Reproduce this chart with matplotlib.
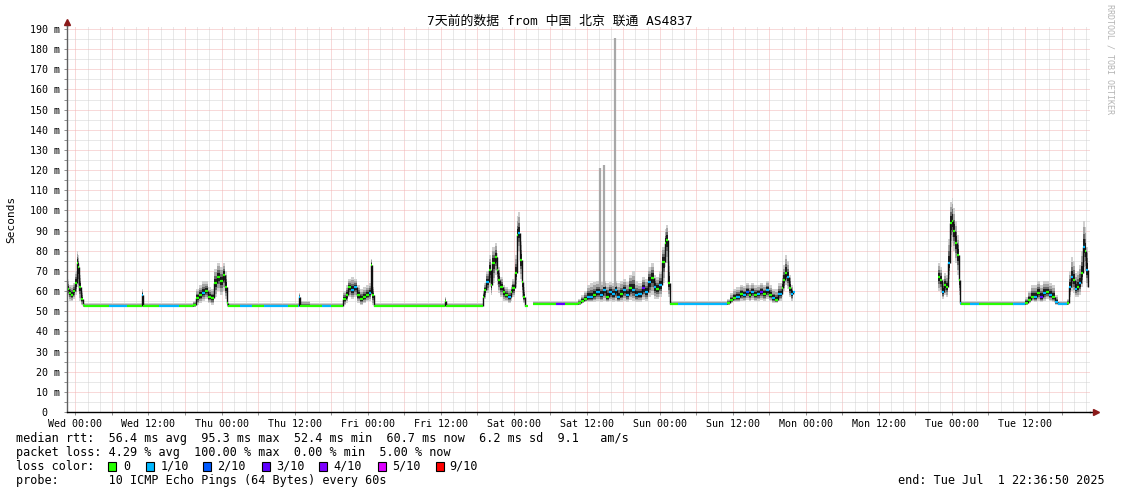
import numpy as np
import matplotlib
matplotlib.use('Agg')
import matplotlib.pyplot as plt
from matplotlib.collections import LineCollection
from matplotlib.patches import Rectangle

plt.rcParams['font.family'] = ['DejaVu Sans Mono', 'Noto Sans CJK SC']

nan = float('nan')

# hours since Wed 00:00 (graph spans 7 days ending Tue 22:36:50)
hours = [
    -1.3, -1.0, -0.7, -0.4, -0.1, 0.2, 0.4, 0.6, 0.9, 1.2, 1.4,
    3.5, 5.5, 6.6, 8.5, 10.7, 10.9, 11.1, 13.7, 14.9, 17.0, 18.9,
    19.3, 19.8, 20.3, 20.8, 21.3, 21.8, 22.2, 22.7, 23.2, 23.7, 24.2, 24.5, 24.9, 25.0,
    27.0, 29.0, 31.0, 33.0, 35.0, 36.5, 36.7, 36.9, 38.5, 40.5, 42.0, 43.6,
    43.9, 44.4, 44.7, 45.2, 45.7, 46.2, 46.7, 47.2, 47.7, 48.2, 48.5, 48.75, 49.0,
    51.0, 54.0, 57.0, 60.5, 60.7, 60.9, 63.0, 65.0, 66.5,
    66.9, 67.2, 67.5, 67.9, 68.2, 68.5, 68.9, 69.2, 69.5, 69.8, 70.2, 70.5, 71.0, 71.5,
    71.8, 72.2, 72.5, 72.7, 73.0, 73.3, 73.6, 73.9,
    74.4,
    75.1, 77.0, 79.0, 80.5, 82.2, 82.5, 83.0, 83.5,
    84.1, 84.6, 85.1, 85.6, 86.1, 86.6, 87.1, 87.6, 88.1, 88.6, 89.05, 89.5, 90.0, 90.5,
    91.0, 91.5, 92.0, 92.5, 93.0, 93.5, 94.0, 94.5, 95.0, 95.45, 95.9, 96.4, 96.8, 97.1,
    97.35, 97.6,
    99.0, 101.0, 103.0, 105.0, 107.1, 107.6, 108.1,
    108.6, 109.1, 109.6, 110.1, 110.6, 111.0, 111.5, 112.0, 112.5, 113.0, 113.5, 114.0,
    114.5, 115.0, 115.5, 116.0, 116.3, 116.6, 116.96, 117.3, 117.6, 117.9,
    118.2,
    141.7, 142.1, 142.4, 142.7, 143.1, 143.4, 143.7, 144.0, 144.2, 144.5, 144.9, 145.1, 145.4, 145.5,
    147.0, 148.5, 150.5, 152.5, 154.0, 155.0, 156.0, 156.5, 157.0,
    157.5, 158.0, 158.5, 159.0, 159.5, 160.0, 160.5, 160.95, 161.4, 162.4, 162.9, 163.3,
    163.6, 163.9, 164.2, 164.6, 164.9, 165.2, 165.5, 165.8, 166.0, 166.4,
]

median_ms = [
    61, 59, 58, 60, 64, 74, 72, 62, 56, 53, 52.5,
    52.5, 52.5, 52.5, 52.5, 52.5, 58, 52.5, 52.5, 52.5, 52.5, 52.5,
    53, 56.5, 58, 59, 60, 57, 56.5, 64, 67, 65, 68, 62, 54, 52.5,
    52.5, 52.5, 52.5, 52.5, 52.5, 52.5, 57, 52.5, 52.5, 52.5, 52.5, 52.5,
    56, 58, 62, 60.5, 62, 58, 56, 57, 58, 59, 73, 58, 52.5,
    52.5, 52.5, 52.5, 52.5, 55, 52.5, 52.5, 52.5, 52.5,
    57, 60.5, 64.5, 70.5, 63, 74, 77, 70.5, 65.5, 62, 59.5, 58, 57, 59.5,
    61.5, 69, 88, 89, 75.5, 64.5, 57, 52.5,
    nan,
    53.5, 53.5, 53.5, 53.5, 53.5, 54, 55, 56,
    57, 57, 58, 59.5, 58, 60.5, 57, 59.5, 58.5, 60.5, 57, 58.5, 60.5, 58,
    61.5, 60.5, 58, 58.5, 61.5, 59.5, 64.5, 66.5, 62, 61, 63, 74.5, 84, 85.5,
    64, 53.5,
    53.5, 53.5, 53.5, 53.5, 54, 55.5, 56.5,
    57, 58.5, 58, 59.5, 58, 59.5, 58, 58.5, 59.5, 58.5, 60.5, 58,
    56.5, 55.5, 58.5, 61.5, 65.5, 69, 67, 61.5, 58.5, 59.5,
    nan,
    67, 65.5, 59.5, 63, 62, 74, 94, 95, 90, 84, 78, 65.5, 54, 53.5,
    53.5, 53.5, 53.5, 53.5, 53.5, 53.5, 54, 55.5, 57,
    57, 59, 57, 59, 59.5, 58, 57, 54.5, 53.5, 53.5, 54, 62,
    67, 65.5, 61, 62, 64, 69, 82, 80, 70.5, 62,
]

smoke_lo = [
    57, 55, 55, 56, 58, 62, 60, 55, 53, 52, 52,
    52, 52, 52, 52, 52, 53, 52, 52, 52, 52, 52,
    52, 53, 54, 55, 56, 54, 53, 57, 60, 58, 60, 56, 52, 52,
    52, 52, 52, 52, 52, 52, 53, 52, 52, 52, 52, 52,
    53, 54, 57, 56, 57, 54, 53, 54, 55, 55, 58, 53, 52,
    52, 52, 52, 52, 53, 52, 52, 52, 52,
    54, 56, 59, 62, 58, 64, 68, 63, 59, 57, 55, 55, 54, 55,
    57, 62, 78, 80, 66, 57, 54, 52,
    nan,
    53, 53, 53, 53, 53, 53, 54, 54.5,
    54.5, 54.5, 54.5, 55, 54.5, 55, 54.5, 55, 54.5, 55, 54.5, 54.5, 55, 54.5,
    55.5, 55, 54.5, 54.5, 55.5, 55, 57, 58, 56, 56, 57, 64, 72, 74,
    57, 53,
    53, 53, 53, 53, 53, 54, 54.5,
    54.5, 55, 55, 55.5, 55, 55.5, 55, 55, 55.5, 55, 56, 55,
    54, 54, 55, 57, 60, 63, 61, 57, 55, 56,
    nan,
    60, 59, 56, 58, 57, 66, 82, 84, 80, 74, 68, 58, 53, 53,
    53, 53, 53, 53, 53, 53, 53, 54, 55,
    54.5, 55, 54.5, 55, 56, 55, 54.5, 53, 53, 53, 53, 57,
    60, 59, 57, 57, 58, 62, 72, 70, 62, 57,
]

smoke_hi = [
    66, 63, 63, 64, 70, 80, 78, 68, 60, 55, 54,
    54, 54, 54, 54, 54, 61, 54, 54, 54, 54, 54,
    55, 61, 63, 65, 65, 62, 61, 71, 74, 72, 74, 70, 57, 54,
    54, 54, 54, 54, 54, 54, 59, 55, 54, 54, 54, 54,
    60, 63, 66, 67, 66, 63, 61, 62, 63, 64, 76, 62, 54,
    54, 54, 54, 54, 57, 54, 54, 54, 54,
    60, 64, 70, 78, 70, 82, 84, 79, 72, 67, 63, 62, 61, 63,
    66, 78, 97, 99, 85, 72, 62, 55,
    nan,
    55, 55, 55, 55, 55, 56, 58, 60,
    63, 64, 64.5, 65, 64.5, 65, 64, 64.5, 64, 65, 64, 65, 66, 64.5,
    68, 70, 65, 64, 67, 66, 72, 74, 68, 67, 70, 82, 91, 93,
    75, 55,
    55, 55, 55, 55, 56, 59, 61,
    62, 63, 62.5, 64, 63, 64, 63, 63, 64, 63, 65, 63,
    61, 61, 64, 68, 73, 78, 75, 68, 63, 63,
    nan,
    74, 72, 66, 69, 68, 86, 104, 106, 101, 95, 88, 74, 57, 55,
    55, 55, 55, 55, 55, 55, 57, 60, 63,
    63, 65, 63, 65, 65, 64, 63, 58, 55, 55, 56, 70,
    77, 75, 69, 70, 73, 80, 95, 92, 82, 72,
]

# packet loss per sample, in tenths
loss_level = [
    0, 0, 0, 0, 0, 0, 0, 0, 0, 0, 0,
    0, 1, 1, 0, 0, 1, 0, 1, 1, 0, 0,
    0, 0, 0, 1, 0, 0, 0, 0, 0, 0, 0, 0, 0, 0,
    1, 0, 1, 1, 0, 1, 1, 0, 0, 1, 0, 0,
    0, 0, 0, 1, 1, 0, 0, 0, 0, 1, 0, 0, 0,
    0, 0, 0, 0, 0, 0, 0, 0, 0,
    0, 0, 1, 0, 0, 0, 0, 0, 0, 0, 0, 0, 1, 0,
    0, 0, 0, 1, 0, 0, 0, 0,
    0,
    0, 0, 3, 0, 0, 0, 0, 0,
    1, 1, 0, 1, 1, 1, 0, 1, 1, 1, 1, 0, 1, 1,
    0, 1, 1, 1, 3, 1, 1, 0, 1, 0, 1, 0, 0, 0,
    0, 0,
    1, 1, 1, 1, 0, 0, 0,
    1, 0, 1, 2, 0, 1, 0, 1, 3, 0, 1, 0,
    1, 0, 1, 0, 0, 0, 1, 0, 1, 1,
    0,
    0, 0, 1, 0, 0, 1, 0, 0, 0, 0, 0, 0, 1, 0,
    1, 0, 0, 0, 1, 1, 0, 0, 0,
    1, 0, 3, 1, 0, 1, 0, 1, 1, 1, 0, 1,
    1, 0, 1, 0, 1, 0, 1, 0, 1, 1,
]

# single outlier pings on Saturday afternoon
spike_hours = [86.1, 86.8, 88.7]
spike_top = [121, 122.5, 185.5]
spike_base = [62, 62, 62]

loss_labels = ['0', '1/10', '2/10', '3/10', '4/10', '5/10', '9/10']
loss_colors = ['#26ff00', '#00b8ff', '#0059ff', '#5e00ff', '#7e00ff', '#dd00ff', '#ff0000']
loss_steps = [0, 1, 2, 3, 4, 5, 9]

day_labels = ['Wed 00:00', 'Wed 12:00', 'Thu 00:00', 'Thu 12:00', 'Fri 00:00', 'Fri 12:00',
              'Sat 00:00', 'Sat 12:00', 'Sun 00:00', 'Sun 12:00', 'Mon 00:00', 'Mon 12:00',
              'Tue 00:00', 'Tue 12:00']

W, H = 1121, 494
fig = plt.figure(figsize=(W / 100, H / 100), dpi=100)
fig.patch.set_facecolor('white')
ax = fig.add_axes([67 / W, 82 / H, 1022.6 / W, 386 / H])
x0, x1 = -1.386, 166.614
ax.set_xlim(x0, x1)
ax.set_ylim(0, 191.5)

# dotted grid: red every 6 h / 10 ms, grey in between
dot = (0, (1, 1))
for h in range(0, 168, 2):
    col = '#f2b4b4' if h % 6 == 0 else '#d2d2d2'
    ax.axvline(h, color=col, lw=0.72, ls=dot, zorder=1)
for v in range(5, 195, 5):
    col = '#f2b4b4' if v % 10 == 0 else '#d2d2d2'
    ax.axhline(v, color=col, lw=0.72, ls=dot, zorder=1)

t = np.array(hours, dtype=float)
m = np.array(median_ms, dtype=float)
lo = np.array(smoke_lo, dtype=float)
hi = np.array(smoke_hi, dtype=float)

# smoke, light to dark
for frac, col in zip([1.0, 0.75, 0.5, 0.3], ['#d0d0d0', '#a4a4a4', '#6a6a6a', '#1e1e1e']):
    ax.fill_between(t, m - frac * (m - lo), m + frac * (hi - m), color=col, lw=0,
                    step='post', zorder=3)

ax.vlines(spike_hours, spike_base, spike_top, colors='#a8a8a8', lw=1.6, zorder=3)

# median: coloured flat steps by loss, black risers
cmap = dict(zip(loss_steps, loss_colors))
flat, flat_cols, risers = [], [], []
for i in range(len(t) - 1):
    if np.isnan(m[i]):
        continue
    flat.append([(t[i], m[i]), (t[i + 1], m[i])])
    flat_cols.append(cmap[loss_level[i]])
    if not np.isnan(m[i + 1]):
        risers.append([(t[i + 1], m[i]), (t[i + 1], m[i + 1])])
ax.add_collection(LineCollection(risers, colors='#101010', linewidths=1.0, zorder=4))
ax.add_collection(LineCollection(flat, colors=flat_cols, linewidths=1.6, zorder=5,
                                 capstyle='butt'))

# axes
for s in ['top', 'right']:
    ax.spines[s].set_visible(False)
ax.spines['left'].set_color('#606060')
ax.spines['left'].set_linewidth(1)
ax.spines['bottom'].set_color('black')
ax.spines['bottom'].set_linewidth(1)
ax.plot([1, 1 + 6 / 1022.6], [0, 0], color='black', lw=1, transform=ax.transAxes, clip_on=False)
ax.plot([1 + 6 / 1022.6], [0], marker='>', color='#8b1a1a', ms=4, transform=ax.transAxes, clip_on=False)
ax.plot([0, 0], [1, 1 + 3 / 386], color='#606060', lw=1, transform=ax.transAxes, clip_on=False)
ax.plot([0], [1 + 4 / 386], marker='^', color='#8b1a1a', ms=4, transform=ax.transAxes, clip_on=False)

ax.set_xticks(list(range(0, 157, 12)))
ax.set_xticklabels(day_labels)
ax.set_xticks(list(range(0, 167, 6)), minor=True)
yt = list(range(0, 191, 10))
ax.set_yticks(yt)
ax.set_yticklabels(['0  '] + ['%d m' % v for v in yt[1:]])
ax.set_yticks(list(range(5, 191, 10)), minor=True)
ax.tick_params(axis='both', which='both', length=2.2, width=0.7, color='#909090', labelsize=7.2, pad=2.5)

# text
fig.text(560 / W, 1 - 21 / H, '7天前的数据 from 中国 北京 联通 AS4837', ha='center', va='center', fontsize=9.3)
fig.text(11 / W, 1 - 219 / H, 'Seconds', rotation=90, ha='center', va='center', fontsize=8)
fig.text(1110 / W, 1 - 4 / H, 'RRDTOOL / TOBI OETIKER', rotation=-90, ha='center', va='top',
         fontsize=6, color='#b4b4b4')

fs = 8.5
fig.text(16 / W, 1 - 438 / H,
         'median rtt:  56.4 ms avg  95.3 ms max  52.4 ms min  60.7 ms now  6.2 ms sd  9.1   am/s',
         va='center', fontsize=fs)
fig.text(16 / W, 1 - 452 / H,
         'packet loss: 4.29 % avg  100.00 % max  0.00 % min  5.00 % now', va='center', fontsize=fs)
fig.text(16 / W, 1 - 466 / H, 'loss color:', va='center', fontsize=fs)
sq_x = [108, 146, 203, 262, 319, 378, 436]
lab_x = [123, 161, 217, 276, 333, 392, 449]
for sx, lx, lab, col in zip(sq_x, lab_x, loss_labels, loss_colors):
    fig.patches.append(Rectangle((sx / W, 1 - 471 / H), 8 / W, 9 / H, transform=fig.transFigure,
                                 facecolor=col, edgecolor='black', lw=0.8))
    fig.text(lx / W, 1 - 466 / H, lab, va='center', fontsize=fs)
fig.text(16 / W, 1 - 480 / H, 'probe:       10 ICMP Echo Pings (64 Bytes) every 60s', va='center', fontsize=fs)
fig.text(1105 / W, 1 - 480 / H, 'end: Tue Jul  1 22:36:50 2025', ha='right', va='center', fontsize=fs)

fig.savefig('out.png', dpi=100, facecolor='white')
